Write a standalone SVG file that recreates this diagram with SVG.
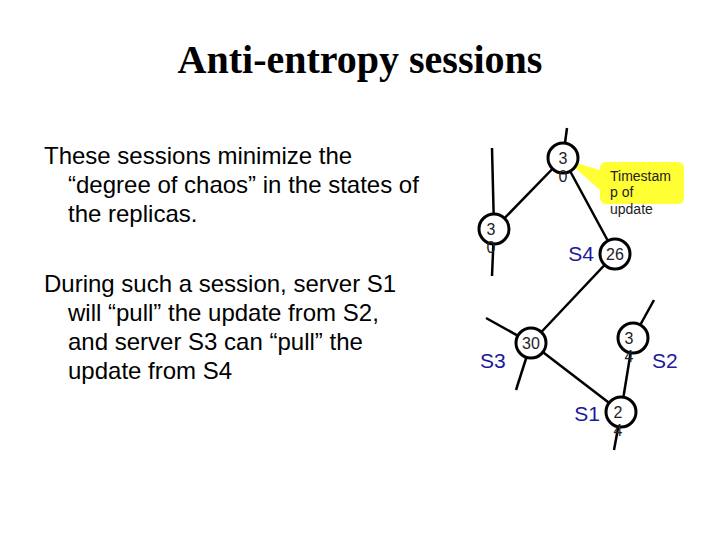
<svg xmlns="http://www.w3.org/2000/svg" width="720" height="540" viewBox="0 0 720 540">
<style>
.t{font-family:"Liberation Sans",Arial,sans-serif}
.n circle{fill:#fff;stroke:#000;stroke-width:3}
.v{font-family:"Liberation Sans",Arial,sans-serif;font-size:16px;fill:#222}
.s{font-family:"Liberation Sans",Arial,sans-serif;font-size:21px;fill:#1a1a9c}
#edges line{stroke:#000;stroke-width:2.5}
</style>
<rect width="720" height="540" fill="#fff"/>
<text x="360" y="73" text-anchor="middle" font-family="Liberation Serif,serif" font-weight="bold" font-size="40">Anti-entropy sessions</text>
<g class="t" font-size="24" fill="#000">
<text x="44" y="164">These sessions minimize the</text>
<text x="68" y="193">“degree of chaos” in the states of</text>
<text x="68" y="222">the replicas.</text>
<text x="44" y="292">During such a session, server S1</text>
<text x="68" y="321">will “pull” the update from S2,</text>
<text x="68" y="350">and server S3 can “pull” the</text>
<text x="68" y="379">update from S4</text>
</g>
<g id="edges">
<line x1="563" y1="158" x2="567" y2="128"/>
<line x1="492" y1="148" x2="494" y2="229"/>
<line x1="494" y1="229" x2="492" y2="276"/>
<line x1="563" y1="158" x2="494" y2="229"/>
<line x1="563" y1="158" x2="615" y2="254"/>
<line x1="615" y1="254" x2="531" y2="343"/>
<line x1="531" y1="343" x2="486" y2="318"/>
<line x1="531" y1="343" x2="516" y2="390"/>
<line x1="531" y1="343" x2="621" y2="412"/>
<line x1="633" y1="338" x2="621" y2="412"/>
<line x1="633" y1="338" x2="654" y2="300"/>
<line x1="621" y1="412" x2="614" y2="450"/>
</g>
<g id="callout">
<polygon points="566,160 600,170 600,190" fill="#ffff33"/>
<rect x="600" y="162" width="84" height="42" rx="6" fill="#ffff33"/>
<text x="610" y="181" class="t" font-size="14" fill="#222">Timestam</text>
<text x="610" y="197" class="t" font-size="14" fill="#222">p of</text>
<text x="610" y="214" class="t" font-size="14" fill="#222">update</text>
</g>
<g id="n1" class="n"><circle cx="563" cy="158" r="15"/><text class="v" x="563" y="164" text-anchor="middle">3</text><text class="v" x="563" y="182" text-anchor="middle">0</text></g>
<g id="n2" class="n"><circle cx="494" cy="229" r="15"/><text class="v" x="491" y="235" text-anchor="middle">3</text><text class="v" x="491" y="253" text-anchor="middle">0</text></g>
<g id="s4" class="n"><circle cx="615" cy="254" r="15"/><text class="v" x="615" y="260" text-anchor="middle">26</text><text class="s" x="594" y="261" text-anchor="end">S4</text></g>
<g id="s3" class="n"><circle cx="531" cy="343" r="15"/><text class="v" x="531" y="349" text-anchor="middle">30</text><text class="s" x="480" y="368">S3</text></g>
<g id="s2" class="n"><circle cx="633" cy="338" r="15"/><text class="v" x="629" y="344" text-anchor="middle">3</text><text class="v" x="629" y="362" text-anchor="middle">4</text><text class="s" x="652" y="368">S2</text></g>
<g id="s1" class="n"><circle cx="621" cy="412" r="15"/><text class="v" x="618" y="418" text-anchor="middle">2</text><text class="v" x="618" y="436" text-anchor="middle">4</text><text class="s" x="600" y="421" text-anchor="end">S1</text></g>
</svg>
